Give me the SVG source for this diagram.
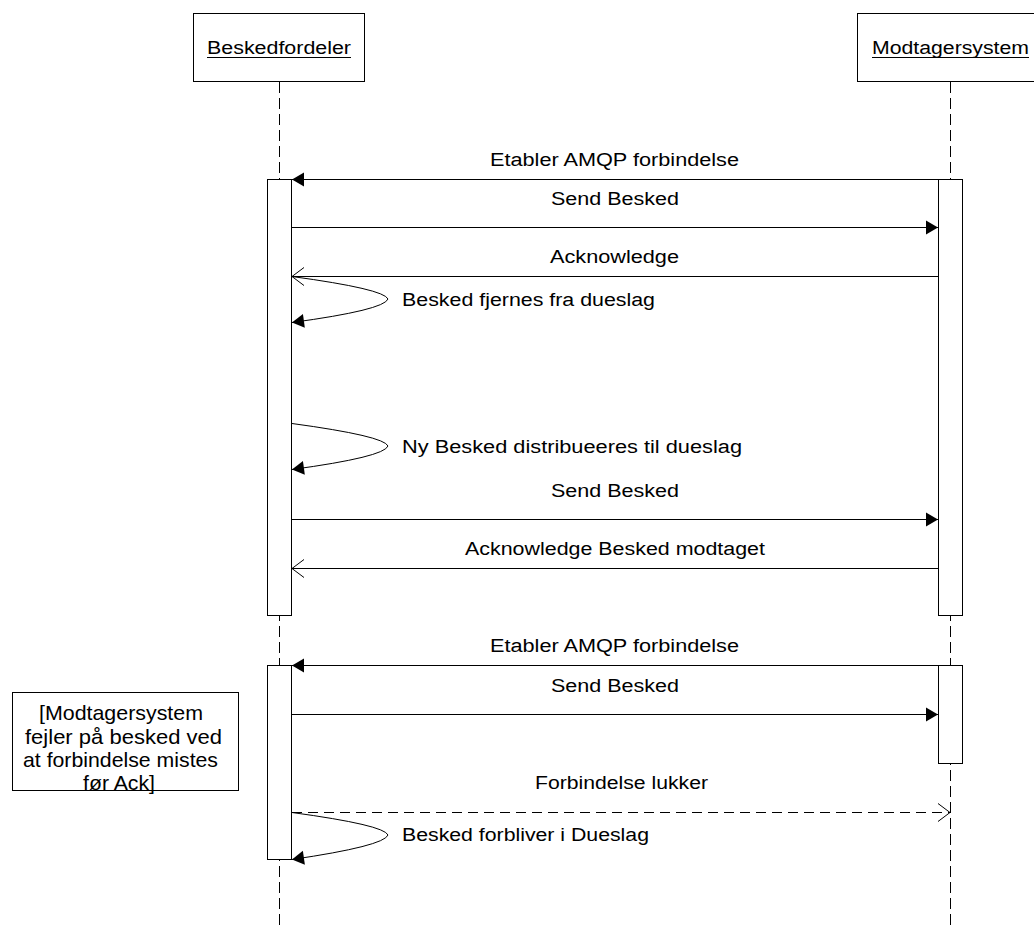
<svg xmlns="http://www.w3.org/2000/svg" width="1034" height="929" viewBox="0 0 1034 929">
<defs>
<marker id="fill" markerUnits="userSpaceOnUse" markerWidth="14" markerHeight="16" viewBox="0 0 14 16" refX="13" refY="8" orient="auto">
<path d="M1,1 L13,8 L1,15 Z" fill="#000"/>
</marker>
<marker id="open" markerUnits="userSpaceOnUse" markerWidth="16" markerHeight="22" viewBox="0 0 16 22" refX="14" refY="11" orient="auto">
<path d="M2,2 L14,11 L2,20" fill="none" stroke="#000" stroke-width="1"/>
</marker>
</defs>
<style>
text{font-family:"Liberation Sans",Arial,sans-serif;font-size:18px;fill:#000}
.note{font-size:21px}
.hdr{fill:#fff;stroke:#000;stroke-width:1}
.life{stroke:#000;stroke-width:1;stroke-dasharray:11,5;fill:none}
.act{fill:#fff;stroke:#000;stroke-width:1}
.msg{stroke:#000;stroke-width:1;fill:none}
.dash{stroke:#000;stroke-width:1;fill:none;stroke-dasharray:10,6}
</style>
<rect width="1034" height="929" fill="#fff"/>
<g id="lifelines">
<line class="life" x1="279.5" y1="82" x2="279.5" y2="929"/>
<line class="life" x1="950.5" y1="82" x2="950.5" y2="929"/>
</g>
<g id="beskedfordeler">
<rect class="hdr" x="193.5" y="13.5" width="171" height="68"/>
<text x="207" y="54" textLength="144" lengthAdjust="spacingAndGlyphs">Beskedfordeler</text>
<line x1="207" y1="57.5" x2="351" y2="57.5" stroke="#000" stroke-width="1"/>
</g>
<g id="modtagersystem">
<rect class="hdr" x="857.5" y="13.5" width="186" height="68"/>
<text x="872" y="54" textLength="157" lengthAdjust="spacingAndGlyphs">Modtagersystem</text>
<line x1="872" y1="57.5" x2="1029" y2="57.5" stroke="#000" stroke-width="1"/>
</g>
<g id="activations">
<rect class="act" x="267.5" y="179.5" width="24" height="436"/>
<rect class="act" x="938.5" y="179.5" width="24" height="436"/>
<rect class="act" x="267.5" y="665.5" width="24" height="194"/>
<rect class="act" x="938.5" y="665.5" width="24" height="98"/>
</g>
<g id="note">
<rect class="hdr" x="12.5" y="692.5" width="226" height="98"/>
<text class="note" x="39" y="720" textLength="164" lengthAdjust="spacingAndGlyphs">[Modtagersystem</text>
<text class="note" x="25" y="744" textLength="197" lengthAdjust="spacingAndGlyphs">fejler på besked ved</text>
<text class="note" x="23" y="767" textLength="195" lengthAdjust="spacingAndGlyphs">at forbindelse mistes</text>
<text class="note" x="83" y="790" textLength="72" lengthAdjust="spacingAndGlyphs">før Ack]</text>
</g>
<g id="connectors">
<line class="msg" x1="938" y1="179.5" x2="292" y2="179.5" stroke-width="1.4" marker-end="url(#fill)"/>
<line class="msg" x1="292" y1="227.5" x2="938" y2="227.5" marker-end="url(#fill)"/>
<line class="msg" x1="938" y1="276.5" x2="292" y2="276.5" marker-end="url(#open)"/>
<path class="msg" d="M292,276.5 Q384,289 388,299 Q384,310 292,322.5" marker-end="url(#fill)"/>
<path class="msg" d="M292,423.5 Q384,436 388,446 Q384,457 292,469.5" marker-end="url(#fill)"/>
<line class="msg" x1="292" y1="519.5" x2="938" y2="519.5" marker-end="url(#fill)"/>
<line class="msg" x1="938" y1="568.5" x2="292" y2="568.5" marker-end="url(#open)"/>
<line class="msg" x1="938" y1="665.5" x2="292" y2="665.5" stroke-width="1.4" marker-end="url(#fill)"/>
<line class="msg" x1="292" y1="714.5" x2="938" y2="714.5" marker-end="url(#fill)"/>
<line class="dash" x1="292" y1="812.5" x2="950" y2="812.5" marker-end="url(#open)"/>
<path class="msg" d="M292,812.5 Q384,825 388,835 Q384,846 292,859.5" marker-end="url(#fill)"/>
</g>
<g id="labels">
<text x="490" y="166" textLength="249" lengthAdjust="spacingAndGlyphs">Etabler AMQP forbindelse</text>
<text x="551" y="205" textLength="128" lengthAdjust="spacingAndGlyphs">Send Besked</text>
<text x="550" y="263" textLength="129" lengthAdjust="spacingAndGlyphs">Acknowledge</text>
<text x="402" y="306" textLength="253" lengthAdjust="spacingAndGlyphs">Besked fjernes fra dueslag</text>
<text x="402" y="453" textLength="340" lengthAdjust="spacingAndGlyphs">Ny Besked distribueeres til dueslag</text>
<text x="551" y="497" textLength="128" lengthAdjust="spacingAndGlyphs">Send Besked</text>
<text x="465" y="555" textLength="300" lengthAdjust="spacingAndGlyphs">Acknowledge Besked modtaget</text>
<text x="490" y="652" textLength="249" lengthAdjust="spacingAndGlyphs">Etabler AMQP forbindelse</text>
<text x="551" y="692" textLength="128" lengthAdjust="spacingAndGlyphs">Send Besked</text>
<text x="535" y="789" textLength="173" lengthAdjust="spacingAndGlyphs">Forbindelse lukker</text>
<text x="402" y="841" textLength="247" lengthAdjust="spacingAndGlyphs">Besked forbliver i Dueslag</text>
</g>
</svg>
